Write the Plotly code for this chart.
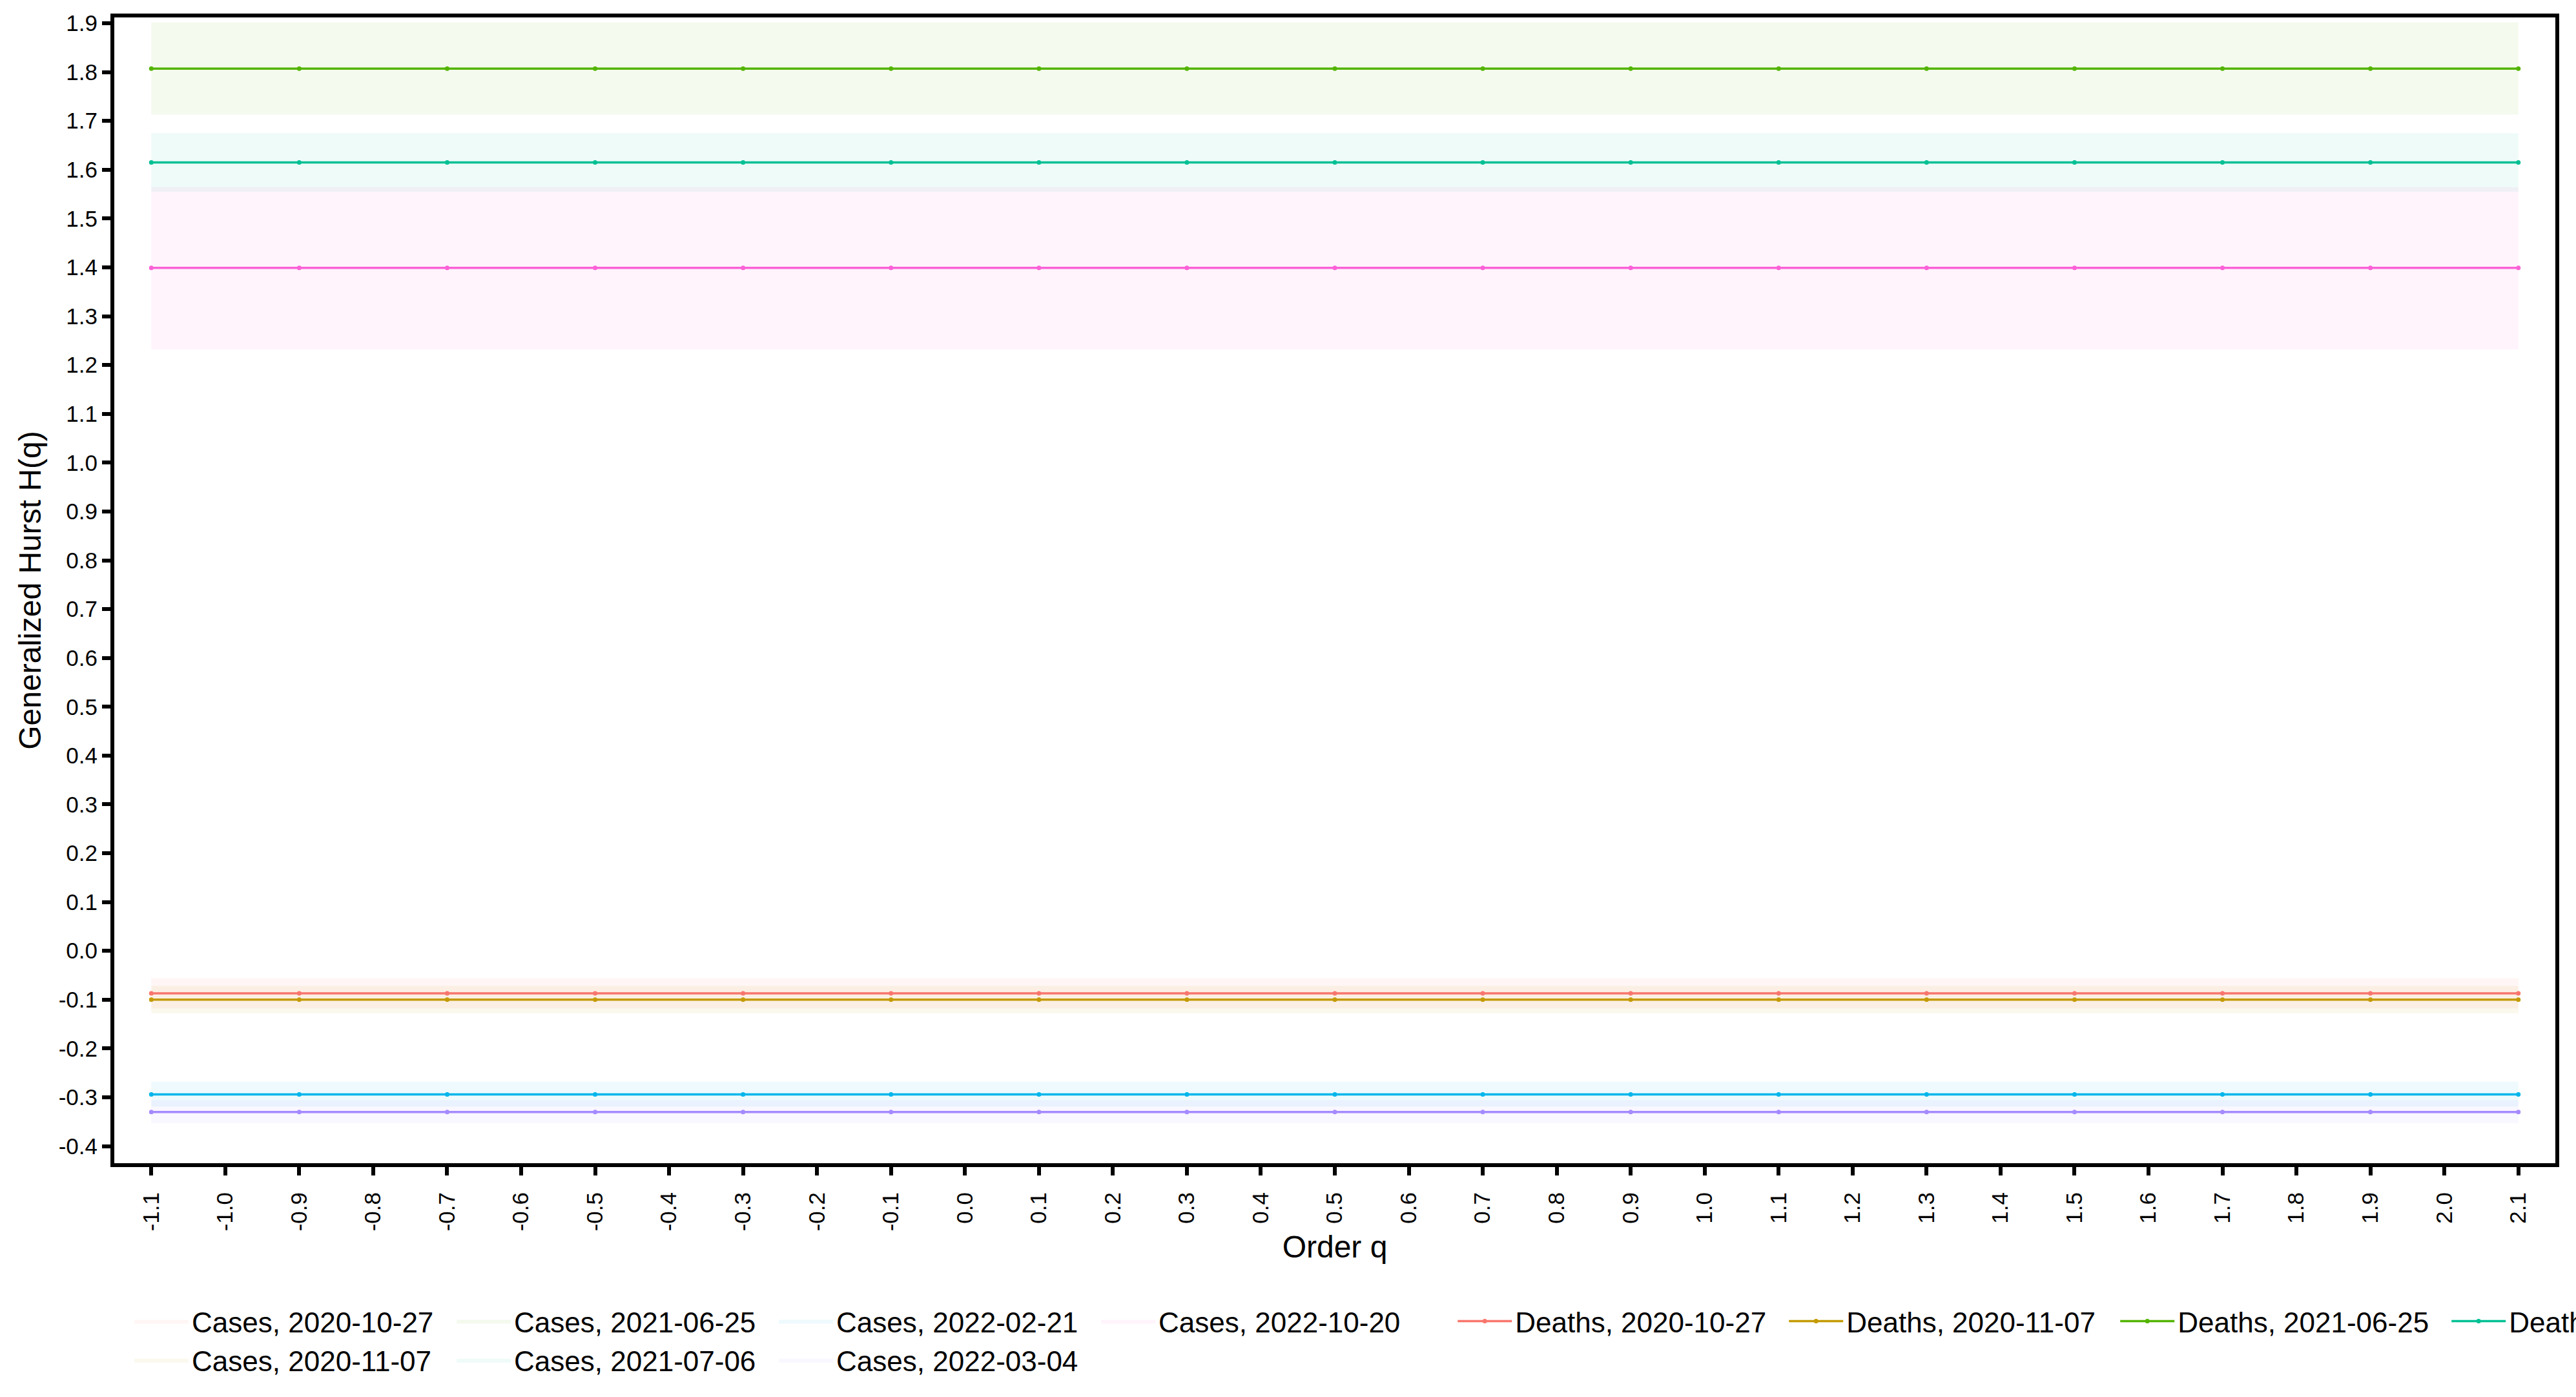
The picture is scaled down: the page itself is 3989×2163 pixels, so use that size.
import plotly.graph_objects as go

# ---------------- data ----------------
q = [-1.1, -0.9, -0.7, -0.5, -0.3, -0.1, 0.1, 0.3, 0.5, 0.7, 0.9,
     1.1, 1.3, 1.5, 1.7, 1.9, 2.1]

dates = ["2020-10-27", "2020-11-07", "2021-06-25", "2021-07-06",
         "2022-02-21", "2022-03-04", "2022-10-20"]

# Deaths: generalized Hurst exponent H(q)
deaths_2020_10_27 = [-0.087, -0.087, -0.087, -0.087, -0.087, -0.087, -0.087, -0.087, -0.087,
                     -0.087, -0.087, -0.087, -0.087, -0.087, -0.087, -0.087, -0.087]
deaths_2020_11_07 = [-0.100, -0.100, -0.100, -0.100, -0.100, -0.100, -0.100, -0.100, -0.100,
                     -0.100, -0.100, -0.100, -0.100, -0.100, -0.100, -0.100, -0.100]
deaths_2021_06_25 = [1.807, 1.807, 1.807, 1.807, 1.807, 1.807, 1.807, 1.807, 1.807,
                     1.807, 1.807, 1.807, 1.807, 1.807, 1.807, 1.807, 1.807]
deaths_2021_07_06 = [1.615, 1.615, 1.615, 1.615, 1.615, 1.615, 1.615, 1.615, 1.615,
                     1.615, 1.615, 1.615, 1.615, 1.615, 1.615, 1.615, 1.615]
deaths_2022_02_21 = [-0.294, -0.294, -0.294, -0.294, -0.294, -0.294, -0.294, -0.294, -0.294,
                     -0.294, -0.294, -0.294, -0.294, -0.294, -0.294, -0.294, -0.294]
deaths_2022_03_04 = [-0.330, -0.330, -0.330, -0.330, -0.330, -0.330, -0.330, -0.330, -0.330,
                     -0.330, -0.330, -0.330, -0.330, -0.330, -0.330, -0.330, -0.330]
deaths_2022_10_20 = [1.399, 1.399, 1.399, 1.399, 1.399, 1.399, 1.399, 1.399, 1.399,
                     1.399, 1.399, 1.399, 1.399, 1.399, 1.399, 1.399, 1.399]

# Cases: band (lower / upper) of H(q)
cases_lo_2020_10_27 = [-0.118, -0.118, -0.118, -0.118, -0.118, -0.118, -0.118, -0.118, -0.118,
                       -0.118, -0.118, -0.118, -0.118, -0.118, -0.118, -0.118, -0.118]
cases_hi_2020_10_27 = [-0.056, -0.056, -0.056, -0.056, -0.056, -0.056, -0.056, -0.056, -0.056,
                       -0.056, -0.056, -0.056, -0.056, -0.056, -0.056, -0.056, -0.056]
cases_lo_2020_11_07 = [-0.128, -0.128, -0.128, -0.128, -0.128, -0.128, -0.128, -0.128, -0.128,
                       -0.128, -0.128, -0.128, -0.128, -0.128, -0.128, -0.128, -0.128]
cases_hi_2020_11_07 = [-0.072, -0.072, -0.072, -0.072, -0.072, -0.072, -0.072, -0.072, -0.072,
                       -0.072, -0.072, -0.072, -0.072, -0.072, -0.072, -0.072, -0.072]
cases_lo_2021_06_25 = [1.713, 1.713, 1.713, 1.713, 1.713, 1.713, 1.713, 1.713, 1.713,
                       1.713, 1.713, 1.713, 1.713, 1.713, 1.713, 1.713, 1.713]
cases_hi_2021_06_25 = [1.902, 1.902, 1.902, 1.902, 1.902, 1.902, 1.902, 1.902, 1.902,
                       1.902, 1.902, 1.902, 1.902, 1.902, 1.902, 1.902, 1.902]
cases_lo_2021_07_06 = [1.555, 1.555, 1.555, 1.555, 1.555, 1.555, 1.555, 1.555, 1.555,
                       1.555, 1.555, 1.555, 1.555, 1.555, 1.555, 1.555, 1.555]
cases_hi_2021_07_06 = [1.675, 1.675, 1.675, 1.675, 1.675, 1.675, 1.675, 1.675, 1.675,
                       1.675, 1.675, 1.675, 1.675, 1.675, 1.675, 1.675, 1.675]
cases_lo_2022_02_21 = [-0.319, -0.319, -0.319, -0.319, -0.319, -0.319, -0.319, -0.319, -0.319,
                       -0.319, -0.319, -0.319, -0.319, -0.319, -0.319, -0.319, -0.319]
cases_hi_2022_02_21 = [-0.268, -0.268, -0.268, -0.268, -0.268, -0.268, -0.268, -0.268, -0.268,
                       -0.268, -0.268, -0.268, -0.268, -0.268, -0.268, -0.268, -0.268]
cases_lo_2022_03_04 = [-0.353, -0.353, -0.353, -0.353, -0.353, -0.353, -0.353, -0.353, -0.353,
                       -0.353, -0.353, -0.353, -0.353, -0.353, -0.353, -0.353, -0.353]
cases_hi_2022_03_04 = [-0.306, -0.306, -0.306, -0.306, -0.306, -0.306, -0.306, -0.306, -0.306,
                       -0.306, -0.306, -0.306, -0.306, -0.306, -0.306, -0.306, -0.306]
cases_lo_2022_10_20 = [1.232, 1.232, 1.232, 1.232, 1.232, 1.232, 1.232, 1.232, 1.232,
                       1.232, 1.232, 1.232, 1.232, 1.232, 1.232, 1.232, 1.232]
cases_hi_2022_10_20 = [1.564, 1.564, 1.564, 1.564, 1.564, 1.564, 1.564, 1.564, 1.564,
                       1.564, 1.564, 1.564, 1.564, 1.564, 1.564, 1.564, 1.564]

deaths = [deaths_2020_10_27, deaths_2020_11_07, deaths_2021_06_25, deaths_2021_07_06,
          deaths_2022_02_21, deaths_2022_03_04, deaths_2022_10_20]
cases_lo = [cases_lo_2020_10_27, cases_lo_2020_11_07, cases_lo_2021_06_25, cases_lo_2021_07_06,
            cases_lo_2022_02_21, cases_lo_2022_03_04, cases_lo_2022_10_20]
cases_hi = [cases_hi_2020_10_27, cases_hi_2020_11_07, cases_hi_2021_06_25, cases_hi_2021_07_06,
            cases_hi_2022_02_21, cases_hi_2022_03_04, cases_hi_2022_10_20]

x_tick_vals = [-1.1, -1.0, -0.9, -0.8, -0.7, -0.6, -0.5, -0.4, -0.3, -0.2, -0.1, 0.0,
               0.1, 0.2, 0.3, 0.4, 0.5, 0.6, 0.7, 0.8, 0.9, 1.0, 1.1, 1.2, 1.3, 1.4,
               1.5, 1.6, 1.7, 1.8, 1.9, 2.0, 2.1]
x_tick_text = ["-1.1", "-1.0", "-0.9", "-0.8", "-0.7", "-0.6", "-0.5", "-0.4", "-0.3", "-0.2",
               "-0.1", "0.0", "0.1", "0.2", "0.3", "0.4", "0.5", "0.6", "0.7", "0.8", "0.9",
               "1.0", "1.1", "1.2", "1.3", "1.4", "1.5", "1.6", "1.7", "1.8", "1.9", "2.0", "2.1"]
y_tick_vals = [-0.4, -0.3, -0.2, -0.1, 0.0, 0.1, 0.2, 0.3, 0.4, 0.5, 0.6, 0.7, 0.8, 0.9,
               1.0, 1.1, 1.2, 1.3, 1.4, 1.5, 1.6, 1.7, 1.8, 1.9]
y_tick_text = ["-0.4", "-0.3", "-0.2", "-0.1", "0.0", "0.1", "0.2", "0.3", "0.4", "0.5",
               "0.6", "0.7", "0.8", "0.9", "1.0", "1.1", "1.2", "1.3", "1.4", "1.5", "1.6",
               "1.7", "1.8", "1.9"]

# ---------------- style ----------------
colors = ["#F8766D", "#C49A00", "#53B400", "#00C094", "#00B6EB", "#A58AFF", "#FB61D7"]
case_groups = ["c1", "c1", "c2", "c2", "c3", "c3", "c4"]
FONT = "Liberation Sans, Arial, Helvetica, sans-serif"


def rgba(hex_color, a):
    h = hex_color.lstrip("#")
    r, g, b = int(h[0:2], 16), int(h[2:4], 16), int(h[4:6], 16)
    return f"rgba({r},{g},{b},{a})"


fig = go.Figure()

for i, d in enumerate(dates):
    fig.add_trace(go.Scatter(
        x=q + q[::-1],
        y=cases_hi[i] + cases_lo[i][::-1],
        fill="toself",
        fillcolor=rgba(colors[i], 0.065),
        mode="lines",
        line=dict(width=0, color=rgba(colors[i], 0.065)),
        name=f"Cases, {d}",
        legend="legend",
        legendgroup=case_groups[i],
        hoverinfo="skip",
    ))

for i, d in enumerate(dates):
    fig.add_trace(go.Scatter(
        x=q,
        y=deaths[i],
        mode="lines+markers",
        line=dict(color=colors[i], width=3.5),
        marker=dict(color=colors[i], size=7),
        name=f"Deaths, {d}",
        legend="legend2",
    ))

axis_common = dict(
    showline=True, linewidth=6, linecolor="black", mirror=True,
    ticks="outside", ticklen=13, tickwidth=6, tickcolor="black",
    showgrid=False, zeroline=False,
    tickfont=dict(size=35, color="black", family=FONT),
)

fig.update_layout(
    template="none",
    width=3989, height=2163,
    margin=dict(l=177, r=32, t=27, b=362, autoexpand=False),
    paper_bgcolor="white", plot_bgcolor="white",
    font=dict(family=FONT, size=35, color="black"),
    showlegend=True,
    xaxis=dict(
        range=[-1.15, 2.15],
        tickmode="array", tickvals=x_tick_vals, ticktext=x_tick_text,
        tickangle=-90, ticklabelstandoff=12,
        title=dict(text="Order q", font=dict(size=48, family=FONT, color="black"), standoff=10),
        **axis_common,
    ),
    yaxis=dict(
        range=[-0.435, 1.912],
        tickmode="array", tickvals=y_tick_vals, ticktext=y_tick_text,
        title=dict(text="Generalized Hurst H(q)", font=dict(size=48, family=FONT, color="black"), standoff=14),
        **axis_common,
    ),
    legend=dict(
        orientation="h", traceorder="grouped", tracegroupgap=0,
        x=0.0069, xanchor="left", y=-0.118, yanchor="top",
        font=dict(size=44, family=FONT, color="black"),
        itemwidth=84, entrywidth=400,
        bgcolor="rgba(0,0,0,0)", borderwidth=0,
    ),
    legend2=dict(
        orientation="h", traceorder="normal",
        x=0.549, xanchor="left", y=-0.118, yanchor="top",
        font=dict(size=44, family=FONT, color="black"),
        itemwidth=84, entrywidth=414,
        bgcolor="rgba(0,0,0,0)", borderwidth=0,
    ),
)

fig.write_html("out.html")
